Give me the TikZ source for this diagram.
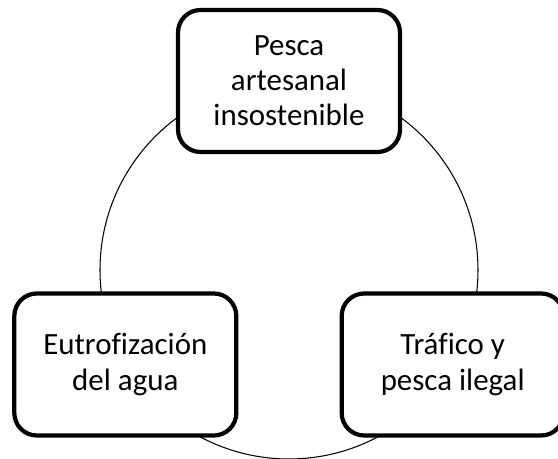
\documentclass[tikz,border=0pt]{standalone}
\usepackage{fontspec}
\setmainfont[Ligatures=NoCommon]{Carlito}
\usepackage{tikz}
\usetikzlibrary{calc}
\usepackage{xcolor}

\tikzset{
	causa/.style={text=black,fill=white,draw,line width=2.4pt,rounded corners=0.45cm,
		minimum width=4.44cm,minimum height=2.84cm,align=center,
		font=\fontsize{17.6}{20}\selectfont},
}

\begin{document}
\begin{tikzpicture}
	\useasboundingbox (0,0) rectangle (11.16,9.18);
	\coordinate(c) at (5.78,3.78);
	\draw[line width=0.6pt] (c) circle (3.78);
	
	\node(0) at ($(c)+(90:3.78)$)[causa]{Pesca\\artesanal\\insostenible};
	\node(1) at ($(c)+(210:3.78)$)[causa]{Eutrofización\\del agua};
	\node(2) at ($(c)+(330:3.78)$)[causa]{Tráfico y\\pesca ilegal};
\end{tikzpicture}
\end{document}
